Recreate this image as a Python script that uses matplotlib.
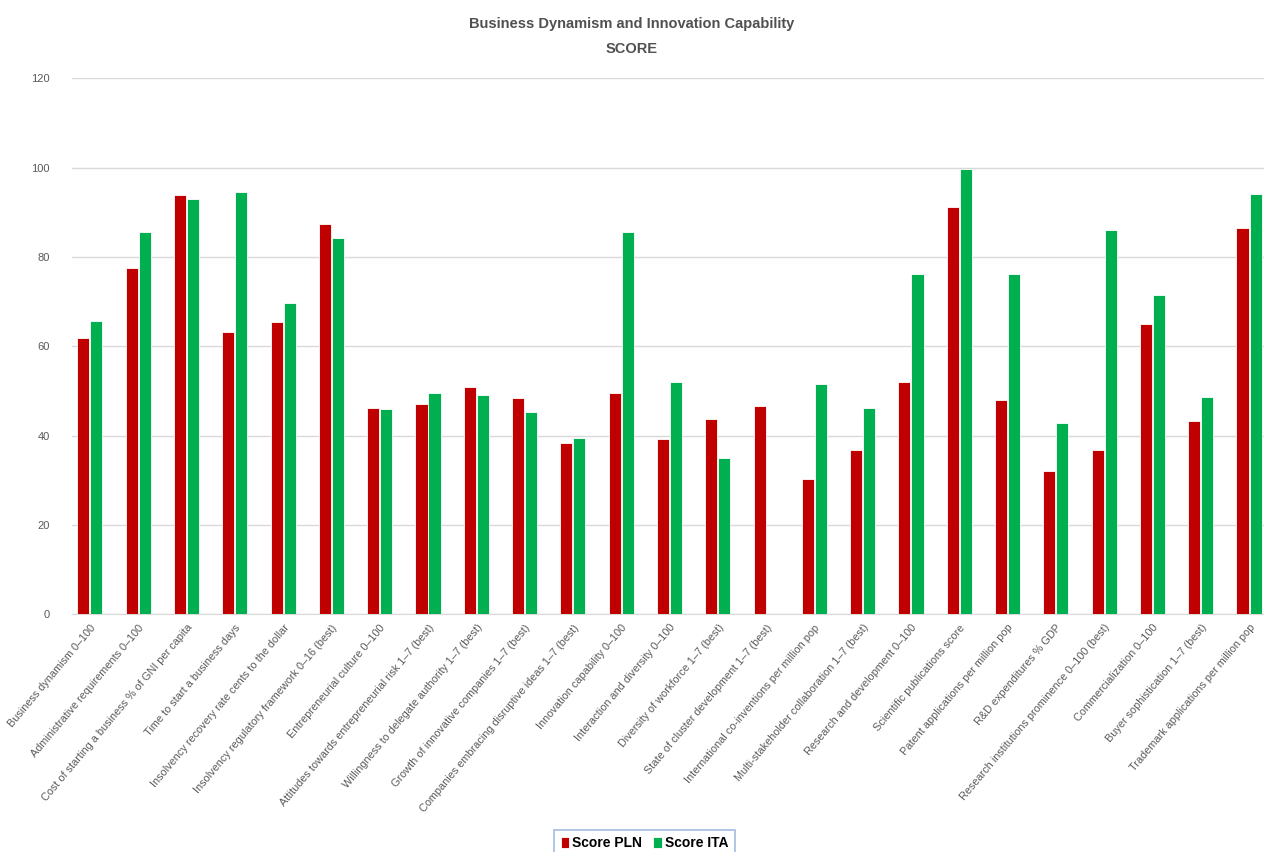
import numpy as np
import matplotlib
matplotlib.use('Agg')
import matplotlib.pyplot as plt

categories = [
    'Business dynamism 0\u2013100',
    'Administrative requirements 0\u2013100',
    'Cost of starting a business % of GNI per capita',
    'Time to start a business days',
    'Insolvency recovery rate cents to the dollar',
    'Insolvency regulatory framework 0\u201316 (best)',
    'Entrepreneurial culture 0\u2013100',
    'Attitudes towards entrepreneurial risk 1\u20137 (best)',
    'Willingness to delegate authority 1\u20137 (best)',
    'Growth of innovative companies 1\u20137 (best)',
    'Companies embracing disruptive ideas 1\u20137 (best)',
    'Innovation capability 0\u2013100',
    'Interaction and diversity 0\u2013100',
    'Diversity of workforce 1\u20137 (best)',
    'State of cluster development 1\u20137 (best)',
    'International co-inventions per million pop',
    'Multi-stakeholder collaboration 1\u20137 (best)',
    'Research and development 0\u2013100',
    'Scientific publications score',
    'Patent applications per million pop',
    'R&D expenditures % GDP',
    'Research institutions prominence 0\u2013100 (best)',
    'Commercialization 0\u2013100',
    'Buyer sophistication 1\u20137 (best)',
    'Trademark applications per million pop',
]

score_pln = [61.8, 77.5, 93.8, 63.1, 65.4, 87.5, 46.3, 47.2, 51.0, 48.4,
             38.3, 49.5, 39.2, 43.7, 46.6, 30.4, 36.7, 52.0, 91.3, 47.9,
             32.0, 36.7, 65.1, 43.2, 86.6]
score_ita = [65.6, 85.5, 92.9, 94.5, 69.8, 84.2, 45.9, 49.5, 49.0, 45.2,
             39.4, 85.5, 52.0, 35.0, 0.0, 51.5, 46.3, 76.1, 99.8, 76.1,
             42.8, 86.0, 71.4, 48.6, 94.0]

plt.rcParams['font.family'] = ['Liberation Sans', 'DejaVu Sans']

fig = plt.figure(figsize=(12.64, 8.52), dpi=100)
ax = fig.add_axes([0.057, 0.279, 0.943, 0.629])

x = np.arange(len(categories))
w = 0.25
ax.bar(x - w / 2 - 0.01, score_pln, w, color='#c00000', edgecolor='white',
       linewidth=0.6, label='Score PLN', zorder=3)
ax.bar(x + w / 2 + 0.01, score_ita, w, color='#00b050', edgecolor='white',
       linewidth=0.6, label='Score ITA', zorder=3)

ax.set_ylim(0, 120)
ax.set_yticks(range(0, 121, 20))
ax.set_xlim(-0.37, len(categories) - 0.69)
ax.grid(axis='y', color='#d9d9d9', linewidth=1.0, zorder=0)
for side in ['top', 'right', 'left']:
    ax.spines[side].set_visible(False)
ax.spines['bottom'].set_color('#d9d9d9')
ax.tick_params(axis='both', length=0, colors='#595959', labelsize=8)
ax.tick_params(axis='y', pad=16)
ax.tick_params(axis='x', pad=6)

ax.set_xticks(x)
ax.set_xticklabels(categories, rotation=50, ha='right', rotation_mode='anchor',
                   fontsize=7.8, color='#595959')

fig.text(0.5, 0.972, 'Business Dynamism and Innovation Capability', ha='center',
         va='center', fontsize=10.5, fontweight='bold', color='#505050')
fig.text(0.5, 0.942, 'SCORE', ha='center', va='center', fontsize=10.5,
         fontweight='bold', color='#505050')

# legend box sits at the very bottom edge, partly below the canvas
leg = fig.legend(loc='upper center', bbox_to_anchor=(0.510, 0.026), ncol=2,
                 frameon=True, fancybox=False, handlelength=0.6, handleheight=0.8,
                 handletextpad=0.25, columnspacing=0.8, borderpad=0.45,
                 borderaxespad=0, prop={'weight': 'bold', 'size': 10})
leg.get_frame().set_edgecolor('#8faadc')
leg.get_frame().set_linewidth(1.2)

fig.savefig('out.png', dpi=100)
